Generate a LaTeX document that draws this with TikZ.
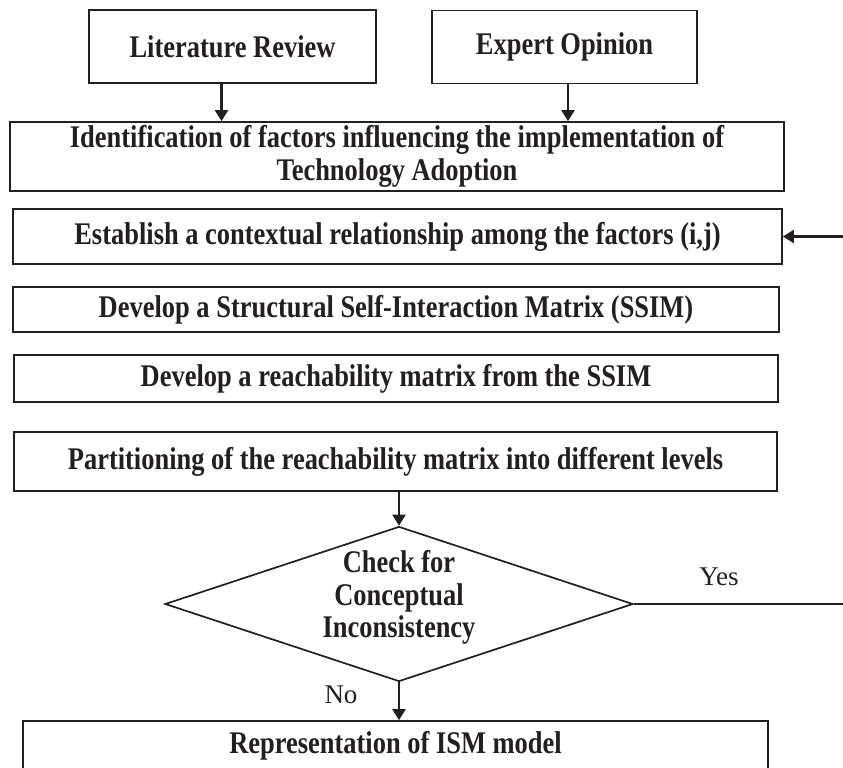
\documentclass[tikz,border=0pt]{standalone}
\usepackage{fontspec}
\setmainfont{Liberation Serif}[BoldFeatures={FakeStretch=0.84}]
\usepackage{tikz}
\usetikzlibrary{arrows.meta,shapes.geometric,positioning}
\usepackage{xcolor}
\definecolor{ismblack}{RGB}{35,31,32}
\newcommand{\ismfont}{\fontsize{31.5}{32.5}\selectfont}
\newcommand{\labelfont}{\fontsize{27}{32}\selectfont}
\tikzstyle{box} = [draw=ismblack,line width=1.7pt,font=\ismfont\bfseries,text=ismblack,align=center,inner sep=0pt]
\tikzstyle{decision} = [diamond,draw=ismblack,line width=1.7pt,aspect=3,minimum width=468pt,minimum height=155pt,inner xsep=0pt,inner ysep=-3pt,font=\ismfont\bfseries,text=ismblack,align=center]
\tikzstyle{arrow} = [draw=ismblack,line width=2.2pt,-{Triangle[length=11pt,width=13pt]}]
\tikzstyle{plainlabel} = [font=\labelfont,text=ismblack]

\begin{document}
\begin{tikzpicture}[x=1pt,y=-1pt]
\useasboundingbox (0,0) rectangle (843,768);

% Sources
\node[box,minimum width=287,minimum height=73] (lit) at (232.5,46.5) {Literature Review};
\node[box,minimum width=265,minimum height=73] (expert) at (564.5,47) {Expert Opinion};

% Steps
\node[box,minimum width=774,minimum height=69] (ident) at (397,156.5) {Identification of factors influencing the implementation of\\Technology Adoption};
\node[box,minimum width=769,minimum height=55] (context) at (397.5,236.5) {Establish a contextual relationship among the factors (i,j)};
\node[box,minimum width=766,minimum height=45] (ssim) at (396,309.5) {Develop a Structural Self-Interaction Matrix (SSIM)};
\node[box,minimum width=764,minimum height=47] (reach) at (396,378.5) {Develop a reachability matrix from the SSIM};
\node[box,minimum width=763,minimum height=59] (levels) at (395.5,461.5) {Partitioning of the reachability matrix into different levels};

% Check
\node[decision] (check) at (399,604) {Check for\\Conceptual\\Inconsistency\rule[-20pt]{0pt}{1pt}};
\node[plainlabel] (yes) at (719,577) {Yes};
\node[plainlabel] (no) at (341,695) {No};

% Model
\node[box,minimum width=745,minimum height=50] (ism) at (395.5,746) {Representation of ISM model};

% Connectors
\coordinate (litout) at ([xshift=-11pt]lit.south);
\coordinate (expertout) at ([xshift=3.5pt]expert.south);
\coordinate (loopin) at (843,236.5);
\coordinate (yesend) at (843,604);
\draw[arrow] (litout) -- (litout |- ident.north);
\draw[arrow] (expertout) -- (expertout |- ident.north);
\draw[arrow] (loopin) -- (context.east);
\draw[arrow] (levels.south -| check.north) -- (check.north);
\draw[arrow] (check.south) -- (check.south |- ism.north);
\draw[draw=ismblack,line width=1.7pt] (check.east) -- (yesend);
\end{tikzpicture}
\end{document}
